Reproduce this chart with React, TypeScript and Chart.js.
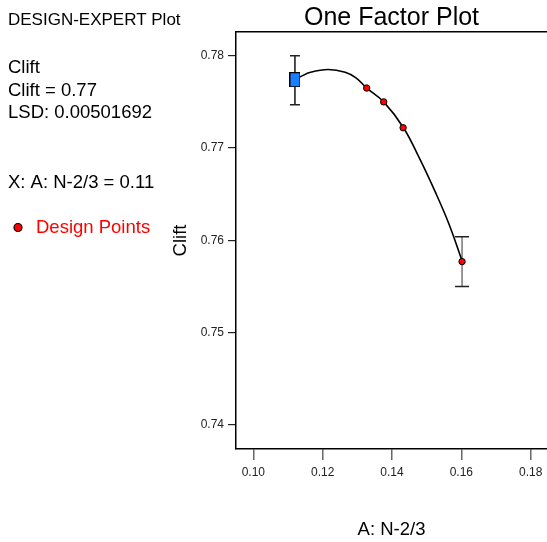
import React, { useEffect, useRef } from "react";
import { Chart, registerables } from "chart.js";

Chart.register(...registerables);

const curveX = [0.1134, 0.1165, 0.1216, 0.1265, 0.1296, 0.1327, 0.1376, 0.1433, 0.1479, 0.1524, 0.1565, 0.1602];
const curveY = [0.7777, 0.7782, 0.7785, 0.7782, 0.7776, 0.7765, 0.775, 0.7722, 0.7689, 0.7653, 0.7617, 0.7578];

const designX = [0.1327, 0.1376, 0.1432, 0.1602];
const designY = [0.7765, 0.775, 0.7722, 0.7577];

const meanX = [0.112];
const meanY = [0.7774];

const errX = [0.112, 0.1602];
const errLow = [0.7747, 0.755];
const errHigh = [0.78, 0.7604];

const xTicks = [0.1, 0.12, 0.14, 0.16, 0.18];
const yTicks = [0.74, 0.75, 0.76, 0.77, 0.78];

const X_MIN = 0.095;
const X_MAX = 0.1847;
const Y_MIN = 0.7374;
const Y_MAX = 0.78257;

const infoHeader = "DESIGN-EXPERT Plot";
const infoLines = ["Clift", "Clift = 0.77", "LSD: 0.00501692", "X: A: N-2/3 = 0.11"];
const infoBaselines = [73, 96, 118, 188];

const FONT = '"Liberation Sans", Arial, sans-serif';

function makeSquare(): HTMLCanvasElement {
  const c = document.createElement("canvas");
  c.width = 11;
  c.height = 15;
  const g = c.getContext("2d")!;
  g.fillStyle = "#1a7fff";
  g.fillRect(0.5, 0.5, 10, 14);
  g.strokeStyle = "#000";
  g.lineWidth = 1;
  g.strokeRect(0.5, 0.5, 10, 14);
  return c;
}

const decorPlugin = {
  id: "decor",
  beforeDatasetsDraw(chart: any) {
    const ctx = chart.ctx;
    const xs = chart.scales.x;
    const ys = chart.scales.y;
    ctx.save();
    for (let i = 0; i < errX.length; i++) {
      const px = xs.getPixelForValue(errX[i]);
      const top = ys.getPixelForValue(errHigh[i]);
      const bot = ys.getPixelForValue(errLow[i]);
      ctx.strokeStyle = i === 0 ? "#111" : "#777";
      ctx.lineWidth = 1.5;
      ctx.beginPath();
      ctx.moveTo(px, top);
      ctx.lineTo(px, bot);
      ctx.stroke();
      ctx.strokeStyle = "#222";
      const hw = i === 0 ? 5 : 7;
      ctx.beginPath();
      ctx.moveTo(px - hw, top);
      ctx.lineTo(px + hw, top);
      ctx.moveTo(px - hw, bot);
      ctx.lineTo(px + hw, bot);
      ctx.stroke();
    }
    ctx.restore();
  },
  afterDraw(chart: any) {
    const ctx = chart.ctx;
    const area = chart.chartArea;
    ctx.save();
    ctx.fillStyle = "#000";
    ctx.textAlign = "center";
    ctx.textBaseline = "alphabetic";
    ctx.font = `25px ${FONT}`;
    ctx.fillText("One Factor Plot", (area.left + area.right) / 2, 25);
    ctx.font = `18.5px ${FONT}`;
    ctx.fillText("A: N-2/3", (area.left + area.right) / 2, 535);
    ctx.save();
    ctx.translate(186, (area.top + area.bottom) / 2);
    ctx.rotate(-Math.PI / 2);
    ctx.font = `18.5px ${FONT}`;
    ctx.fillText("Clift", 0, 0);
    ctx.restore();
    ctx.textAlign = "left";
    ctx.font = `17px ${FONT}`;
    ctx.fillText(infoHeader, 8, 25);
    ctx.font = `18.5px ${FONT}`;
    infoLines.forEach((line, i) => ctx.fillText(line, 8, infoBaselines[i]));
    ctx.beginPath();
    ctx.ellipse(18, 227.5, 4, 4, 0, 0, Math.PI * 2);
    ctx.fillStyle = "#ff0000";
    ctx.fill();
    ctx.strokeStyle = "#000";
    ctx.lineWidth = 1.2;
    ctx.stroke();
    ctx.fillStyle = "#ff0000";
    ctx.font = `18.5px ${FONT}`;
    ctx.fillText("Design Points", 36, 233);
    ctx.restore();
  },
};

export default function App() {
  const ref = useRef<HTMLCanvasElement | null>(null);
  useEffect(() => {
    document.body.style.margin = "0";
    const canvas = ref.current!;
    const square = makeSquare();
    const chart = new Chart(canvas, {
      type: "scatter",
      data: {
        datasets: [
          {
            type: "line",
            data: curveX.map((x, i) => ({ x, y: curveY[i] })),
            borderColor: "#000",
            borderWidth: 1.6,
            pointRadius: 0,
            tension: 0.4,
            fill: false,
            order: 3,
          } as any,
          {
            data: meanX.map((x, i) => ({ x, y: meanY[i] })),
            pointStyle: square as any,
            pointRadius: 7,
            order: 1,
          },
          {
            data: designX.map((x, i) => ({ x, y: designY[i] })),
            backgroundColor: "#ff0000",
            borderColor: "#000",
            borderWidth: 1,
            pointRadius: 3.2,
            order: 2,
          },
        ],
      },
      options: {
        animation: false,
        responsive: false,
        devicePixelRatio: 1,
        layout: { autoPadding: false, padding: { top: 32, left: 0, right: 0, bottom: 0 } },
        plugins: { legend: { display: false }, tooltip: { enabled: false }, title: { display: false } },
        events: [],
        scales: {
          x: {
            type: "linear",
            position: "bottom",
            min: X_MIN,
            max: X_MAX,
            afterBuildTicks: (s: any) => {
              s.ticks = xTicks.map((v) => ({ value: v }));
            },
            afterFit: (s: any) => {
              s.height = 93;
              s.paddingLeft = 0;
              s.paddingRight = 0;
            },
            grid: { drawOnChartArea: false, tickLength: 11, color: "#666", lineWidth: 1.5 },
            border: { display: true, color: "#000", width: 1.5 },
            ticks: {
              padding: 5,
              color: "#222",
              font: { family: FONT, size: 12 },
              maxRotation: 0,
              callback: (v: any) => Number(v).toFixed(2),
            },
          },
          xTop: {
            type: "linear",
            position: "top",
            min: X_MIN,
            max: X_MAX,
            afterFit: (s: any) => {
              s.height = 0;
              s.paddingLeft = 0;
              s.paddingRight = 0;
            },
            grid: { drawOnChartArea: false, drawTicks: false },
            border: { display: true, color: "#000", width: 1.5 },
            ticks: { display: false },
          },
          y: {
            type: "linear",
            position: "left",
            min: Y_MIN,
            max: Y_MAX,
            afterBuildTicks: (s: any) => {
              s.ticks = yTicks.map((v) => ({ value: v }));
            },
            afterFit: (s: any) => {
              s.width = 236;
              s.paddingTop = 0;
              s.paddingBottom = 0;
            },
            grid: { drawOnChartArea: false, tickLength: 8, color: "#222", lineWidth: 1.2 },
            border: { display: true, color: "#000", width: 1.5 },
            ticks: {
              padding: 4,
              color: "#222",
              font: { family: FONT, size: 12 },
              callback: (v: any) => Number(v).toFixed(2),
            },
          },
        } as any,
      },
      plugins: [decorPlugin],
    });
    return () => chart.destroy();
  }, []);
  return <canvas ref={ref} width={547} height={542} style={{ display: "block" }} />;
}
